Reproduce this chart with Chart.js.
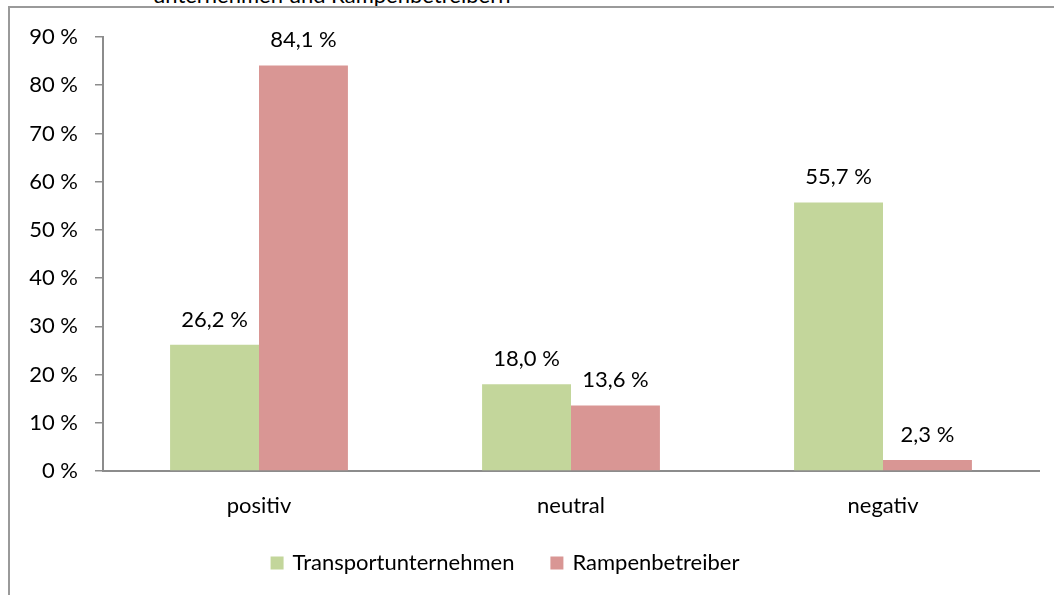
<!DOCTYPE html>
<html lang="de">
<head>
<meta charset="UTF-8">
<title>Bewertung durch Transportunternehmen und Rampenbetreiber</title>
<script src="https://cdn.jsdelivr.net/npm/chart.js"></script>
<style>
    html, body {
        margin: 0;
        padding: 0;
        background: #fff;
        overflow: hidden;
    }
    .wrap {
        position: relative;
        width: 1054px;
        height: 595px;
    }
    .frame {
        position: absolute;
        left: 8px;
        top: 6px;
        right: 0;
        bottom: 0;
        border-left: 2px solid #9a9a9a;
        border-top: 2px solid #9a9a9a;
    }
    .title-cut {
        position: absolute;
        left: 153px;
        top: -16px;
        font: 22px/22px Lato, sans-serif;
        color: #000;
        white-space: nowrap;
    }
    .chart-box {
        position: absolute;
        left: 0;
        top: 0;
        width: 1054px;
        height: 595px;
    }
</style>
</head>
<body>
<div class="wrap">
    <div class="title-cut">unternehmen und Rampenbetreibern</div>
    <div class="frame"></div>
    <div class="chart-box"><canvas id="bewertung"></canvas></div>
</div>

<script>
    // Daten
    const categories = ['positiv', 'neutral', 'negativ'];
    const seriesNames = ['Transportunternehmen', 'Rampenbetreiber'];
    const transportValues = [26.2, 18.0, 55.7];
    const rampenValues = [84.1, 13.6, 2.3];
    const yMax = 90;
    const yStep = 10;

    const FONT = 'Lato, sans-serif';
    const fmtPct = v => v.toFixed(1).replace('.', ',') + ' %';

    // Werte über den Balken
    const valueLabels = {
        id: 'valueLabels',
        afterDatasetsDraw(chart) {
            const ctx = chart.ctx;
            ctx.save();
            ctx.font = '22px ' + FONT;
            ctx.fillStyle = '#000';
            ctx.textAlign = 'center';
            ctx.textBaseline = 'alphabetic';
            chart.data.datasets.forEach((ds, i) => {
                chart.getDatasetMeta(i).data.forEach((bar, j) => {
                    ctx.fillText(fmtPct(ds.data[j]), bar.x, bar.y - 18);
                });
            });
            ctx.restore();
        }
    };

    // Legende unten (Excel-Abstände)
    const bottomLegend = {
        id: 'bottomLegend',
        afterDraw(chart, args, opts) {
            const ctx = chart.ctx;
            const sets = chart.data.datasets;
            ctx.save();
            ctx.font = '22px ' + FONT;
            ctx.textBaseline = 'middle';
            ctx.textAlign = 'left';
            const box = 13, gap = 9, spacing = 36;
            const widths = sets.map(ds => ctx.measureText(ds.label).width);
            const total = widths.reduce((a, w) => a + box + gap + w, 0) + spacing * (sets.length - 1);
            let x = opts.centerX - total / 2;
            sets.forEach((ds, i) => {
                ctx.fillStyle = ds.backgroundColor;
                ctx.fillRect(x, opts.y - box / 2, box, box);
                ctx.fillStyle = '#000';
                ctx.fillText(ds.label, x + box + gap, opts.y);
                x += box + gap + widths[i] + spacing;
            });
            ctx.restore();
        }
    };

    Chart.defaults.font.family = FONT;
    Chart.defaults.font.size = 22;
    Chart.defaults.color = '#000';

    new Chart(document.getElementById('bewertung'), {
        type: 'bar',
        data: {
            labels: categories,
            datasets: [
                {
                    label: seriesNames[0],
                    data: transportValues,
                    backgroundColor: '#c3d69b',
                    categoryPercentage: 0.57,
                    barPercentage: 1.0
                },
                {
                    label: seriesNames[1],
                    data: rampenValues,
                    backgroundColor: '#d99694',
                    categoryPercentage: 0.57,
                    barPercentage: 1.0
                }
            ]
        },
        options: {
            responsive: true,
            maintainAspectRatio: false,
            animation: false,
            layout: {
                padding: { top: 37, right: 15, bottom: 64, left: 0 }
            },
            plugins: {
                legend: { display: false },
                tooltip: { enabled: false },
                bottomLegend: { centerX: 505, y: 563 }
            },
            scales: {
                x: {
                    grid: { display: false, drawTicks: false },
                    border: { display: true, color: '#8c8c8c', width: 2 },
                    ticks: { padding: 22 },
                    afterFit(scale) { scale.height = 60; }
                },
                y: {
                    min: 0,
                    max: yMax,
                    ticks: {
                        stepSize: yStep,
                        padding: 17,
                        callback: v => v + ' %'
                    },
                    grid: {
                        drawOnChartArea: false,
                        drawTicks: true,
                        tickLength: 8,
                        color: '#8c8c8c',
                        lineWidth: 1.5
                    },
                    border: { display: true, color: '#8c8c8c', width: 2 },
                    afterFit(scale) { scale.width = 103; }
                }
            }
        },
        plugins: [valueLabels, bottomLegend]
    });
</script>
</body>
</html>
